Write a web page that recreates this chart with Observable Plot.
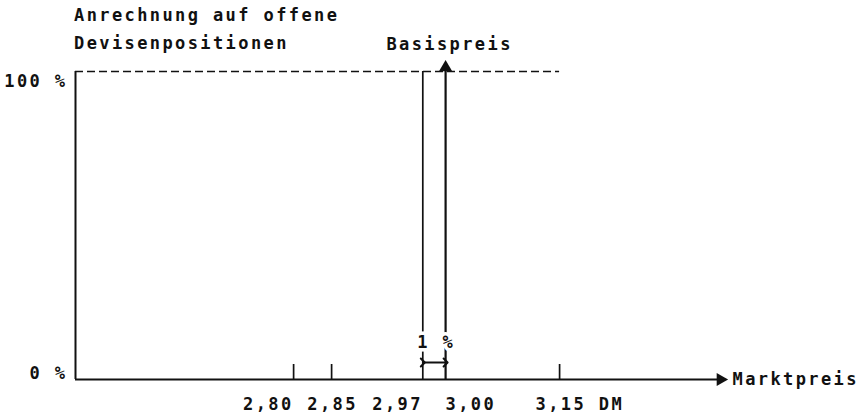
<!DOCTYPE html>
<html>
<head>
<meta charset="utf-8">
<script src="https://cdn.jsdelivr.net/npm/d3@7"></script>
<script src="https://cdn.jsdelivr.net/npm/@observablehq/plot@0.6"></script>
<style>
  body { margin: 0; background: white; }
  #title {
    font-family: "DejaVu Sans Mono", monospace;
    font-size: 17px;
    font-weight: bold;
    letter-spacing: 2.4px;
    line-height: 28px;
    padding: 1px 0 0 74px;
    height: 55px;
    color: #111;
    white-space: pre;
  }
</style>
</head>
<body>
<div id="title">Anrechnung auf offene
Devisenpositionen</div>
<div id="chart"></div>
<script>
// ---- data ----
const titleLines = ["Anrechnung auf offene", "Devisenpositionen"];
const axisRange = [2.513, 3.367];           // Marktpreis axis span (DM)
const shareRange = [0, 100];                // Anrechnung in %
const tickValues = [2.80, 2.85, 2.97, 3.00, 3.15];
const tickLabels = ["2,80", "2,85", "2,97", "3,00", "3,15 DM"];
const shortTicks = [2.80, 2.85, 3.15];
const lowerBound = 2.97;                    // Basispreis minus 1 %
const strike = 3.00;                        // Basispreis
const dashedEnd = 3.15;
const yLabels = ["0 %", "100 %"];
const bandLabel = "1 %";

const labelRows = tickValues.map((v, i) => ({x: v, label: tickLabels[i]}));
const font = "DejaVu Sans Mono, monospace";

const chart = Plot.plot({
  width: 865,
  height: 361,
  marginLeft: 75,
  marginRight: 141,
  marginTop: 15,
  marginBottom: 38,
  x: {domain: axisRange, axis: null},
  y: {domain: shareRange, axis: null},
  style: {fontFamily: font, fontSize: "17px", fontWeight: "bold", letterSpacing: "2.4px", overflow: "visible", color: "#111"},
  marks: [
    // 100 % dashed level
    Plot.ruleY([shareRange[1]], {x1: axisRange[0], x2: dashedEnd, stroke: "#111", strokeWidth: 1.7, strokeDasharray: "8,4"}),
    // vertical axis
    Plot.ruleX([axisRange[0]], {y1: shareRange[0], y2: shareRange[1], stroke: "#111", strokeWidth: 2}),
    // lower bound line at 2.97
    Plot.ruleX([lowerBound], {y1: shareRange[0], y2: shareRange[1], stroke: "#111", strokeWidth: 1.7}),
    // Basispreis line at 3.00
    Plot.ruleX([strike], {y1: shareRange[0], y2: shareRange[1], stroke: "#111", strokeWidth: 2.2}),
    Plot.dot([strike], {x: d => d, y: shareRange[1], symbol: "triangle", r: 4.9, fill: "#111", stroke: null, dy: -4}),
    // horizontal axis with arrow
    Plot.ruleY([shareRange[0]], {x1: axisRange[0], x2: axisRange[1], stroke: "#111", strokeWidth: 2, insetRight: 6}),
    Plot.dot([axisRange[1]], {x: d => d, y: shareRange[0], symbol: "triangle", r: 4.9, rotate: 90, fill: "#111", stroke: null, dx: -4}),
    // short ticks
    Plot.ruleX(shortTicks, {x: d => d, y1: shareRange[0], y2: shareRange[0], insetTop: -15, stroke: "#111", strokeWidth: 1.7}),
    // 1 % band label (white halo interrupts the lines)
    Plot.text([bandLabel], {x: [(lowerBound + strike) / 2], y: [shareRange[0]], text: d => d, dy: -37, dx: 2, fill: "#111", stroke: "white", strokeWidth: 7, paintOrder: "stroke"}),
    // double arrow between 2.97 and 3.00
    Plot.link([0], {x1: lowerBound, x2: strike, y1: shareRange[0], y2: shareRange[0], dy: -17, insetLeft: 2, insetRight: 2, stroke: "#111", strokeWidth: 2, markerStart: "arrow", markerEnd: "arrow"}),
    // tick labels
    Plot.text(labelRows.filter(d => d.x === 2.80 || d.x === 2.97), {x: "x", y: shareRange[0], text: "label", textAnchor: "end", dy: 25, dx: 0, fill: "#111"}),
    Plot.text(labelRows.filter(d => d.x === 2.85), {x: "x", y: shareRange[0], text: "label", textAnchor: "middle", dy: 25, dx: 1, fill: "#111"}),
    Plot.text(labelRows.filter(d => d.x === 3.00), {x: "x", y: shareRange[0], text: "label", textAnchor: "start", dy: 25, dx: 0, fill: "#111"}),
    Plot.text(labelRows.filter(d => d.x === 3.15), {x: "x", y: shareRange[0], text: "label", textAnchor: "start", dy: 25, dx: -24, fill: "#111"}),
    // y labels
    Plot.text([yLabels[1]], {x: [axisRange[0]], y: [shareRange[1]], text: d => d, textAnchor: "end", lineAnchor: "top", dx: -8, dy: 3, fill: "#111"}),
    Plot.text([yLabels[0]], {x: [axisRange[0]], y: [shareRange[0]], text: d => d, textAnchor: "end", lineAnchor: "bottom", dx: -8, dy: -1, fill: "#111"}),
    // annotations
    Plot.text(["Basispreis"], {x: [strike], y: [shareRange[1]], text: d => d, textAnchor: "middle", dy: -27, dx: 4, fill: "#111"}),
    Plot.text(["Marktpreis"], {x: [axisRange[1]], y: [shareRange[0]], text: d => d, textAnchor: "start", dx: 8, fill: "#111"})
  ]
});
document.getElementById("chart").appendChild(chart);
</script>
</body>
</html>
